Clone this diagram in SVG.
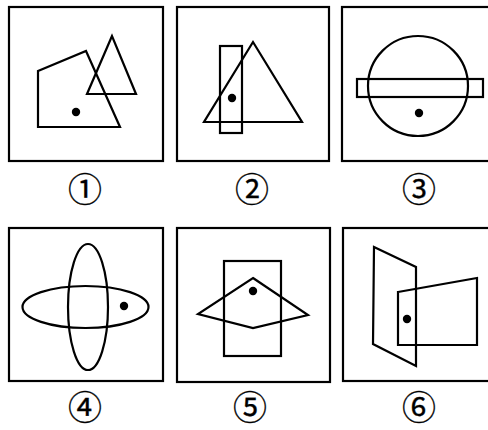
<svg xmlns="http://www.w3.org/2000/svg" width="488" height="430" viewBox="0 0 488 430">
<style>
.f{fill:none;stroke:#000;stroke-width:2.2}
.s{fill:none;stroke:#000;stroke-width:2.2;stroke-linejoin:miter}
.d{fill:#000}
.l{font-family:"Noto Sans CJK SC",sans-serif;font-size:34px;text-anchor:middle;dominant-baseline:central;fill:#000;stroke:#000;stroke-width:0.3}
</style>
<rect width="488" height="430" fill="#fff"/>
<g id="p1">
<rect class="f" x="9" y="7" width="154" height="154"/>
<polygon class="s" points="38,71 86,51 120,127 38,127"/>
<polygon class="s" points="112,36 87,94 136,94"/>
<circle class="d" cx="76" cy="112" r="4.2"/>
<text class="l" x="85" y="187">①</text>
</g>
<g id="p2">
<rect class="f" x="177" y="7" width="152" height="154"/>
<rect class="s" x="220" y="46" width="22" height="87"/>
<polygon class="s" points="253,42 204,122 302,122"/>
<circle class="d" cx="232" cy="98" r="4.2"/>
<text class="l" x="252" y="187">②</text>
</g>
<g id="p3">
<rect class="f" x="342" y="7" width="160" height="154"/>
<circle class="s" cx="418" cy="86" r="50"/>
<rect class="s" x="357" y="79" width="126" height="18"/>
<circle class="d" cx="419" cy="113" r="4.2"/>
<text class="l" x="419" y="187">③</text>
</g>
<g id="p4">
<rect class="f" x="9" y="228" width="154" height="153"/>
<ellipse class="s" cx="88" cy="307" rx="20" ry="63"/>
<ellipse class="s" cx="85.5" cy="307" rx="63" ry="21"/>
<circle class="d" cx="124" cy="306" r="4.2"/>
<text class="l" x="85" y="405">④</text>
</g>
<g id="p5">
<rect class="f" x="177" y="228" width="153" height="154"/>
<rect class="s" x="224" y="261" width="57" height="95"/>
<polygon class="s" points="253,278 308,315 253,328 198,314"/>
<circle class="d" cx="253" cy="291" r="4.2"/>
<text class="l" x="250" y="405">⑤</text>
</g>
<g id="p6">
<rect class="f" x="343" y="228" width="160" height="153"/>
<polygon class="s" points="374,247 416,267 416,366 373,344"/>
<polygon class="s" points="398,292 477,278 477,345 398,345"/>
<circle class="d" cx="407" cy="319" r="4.2"/>
<text class="l" x="419" y="405">⑥</text>
</g>
</svg>
